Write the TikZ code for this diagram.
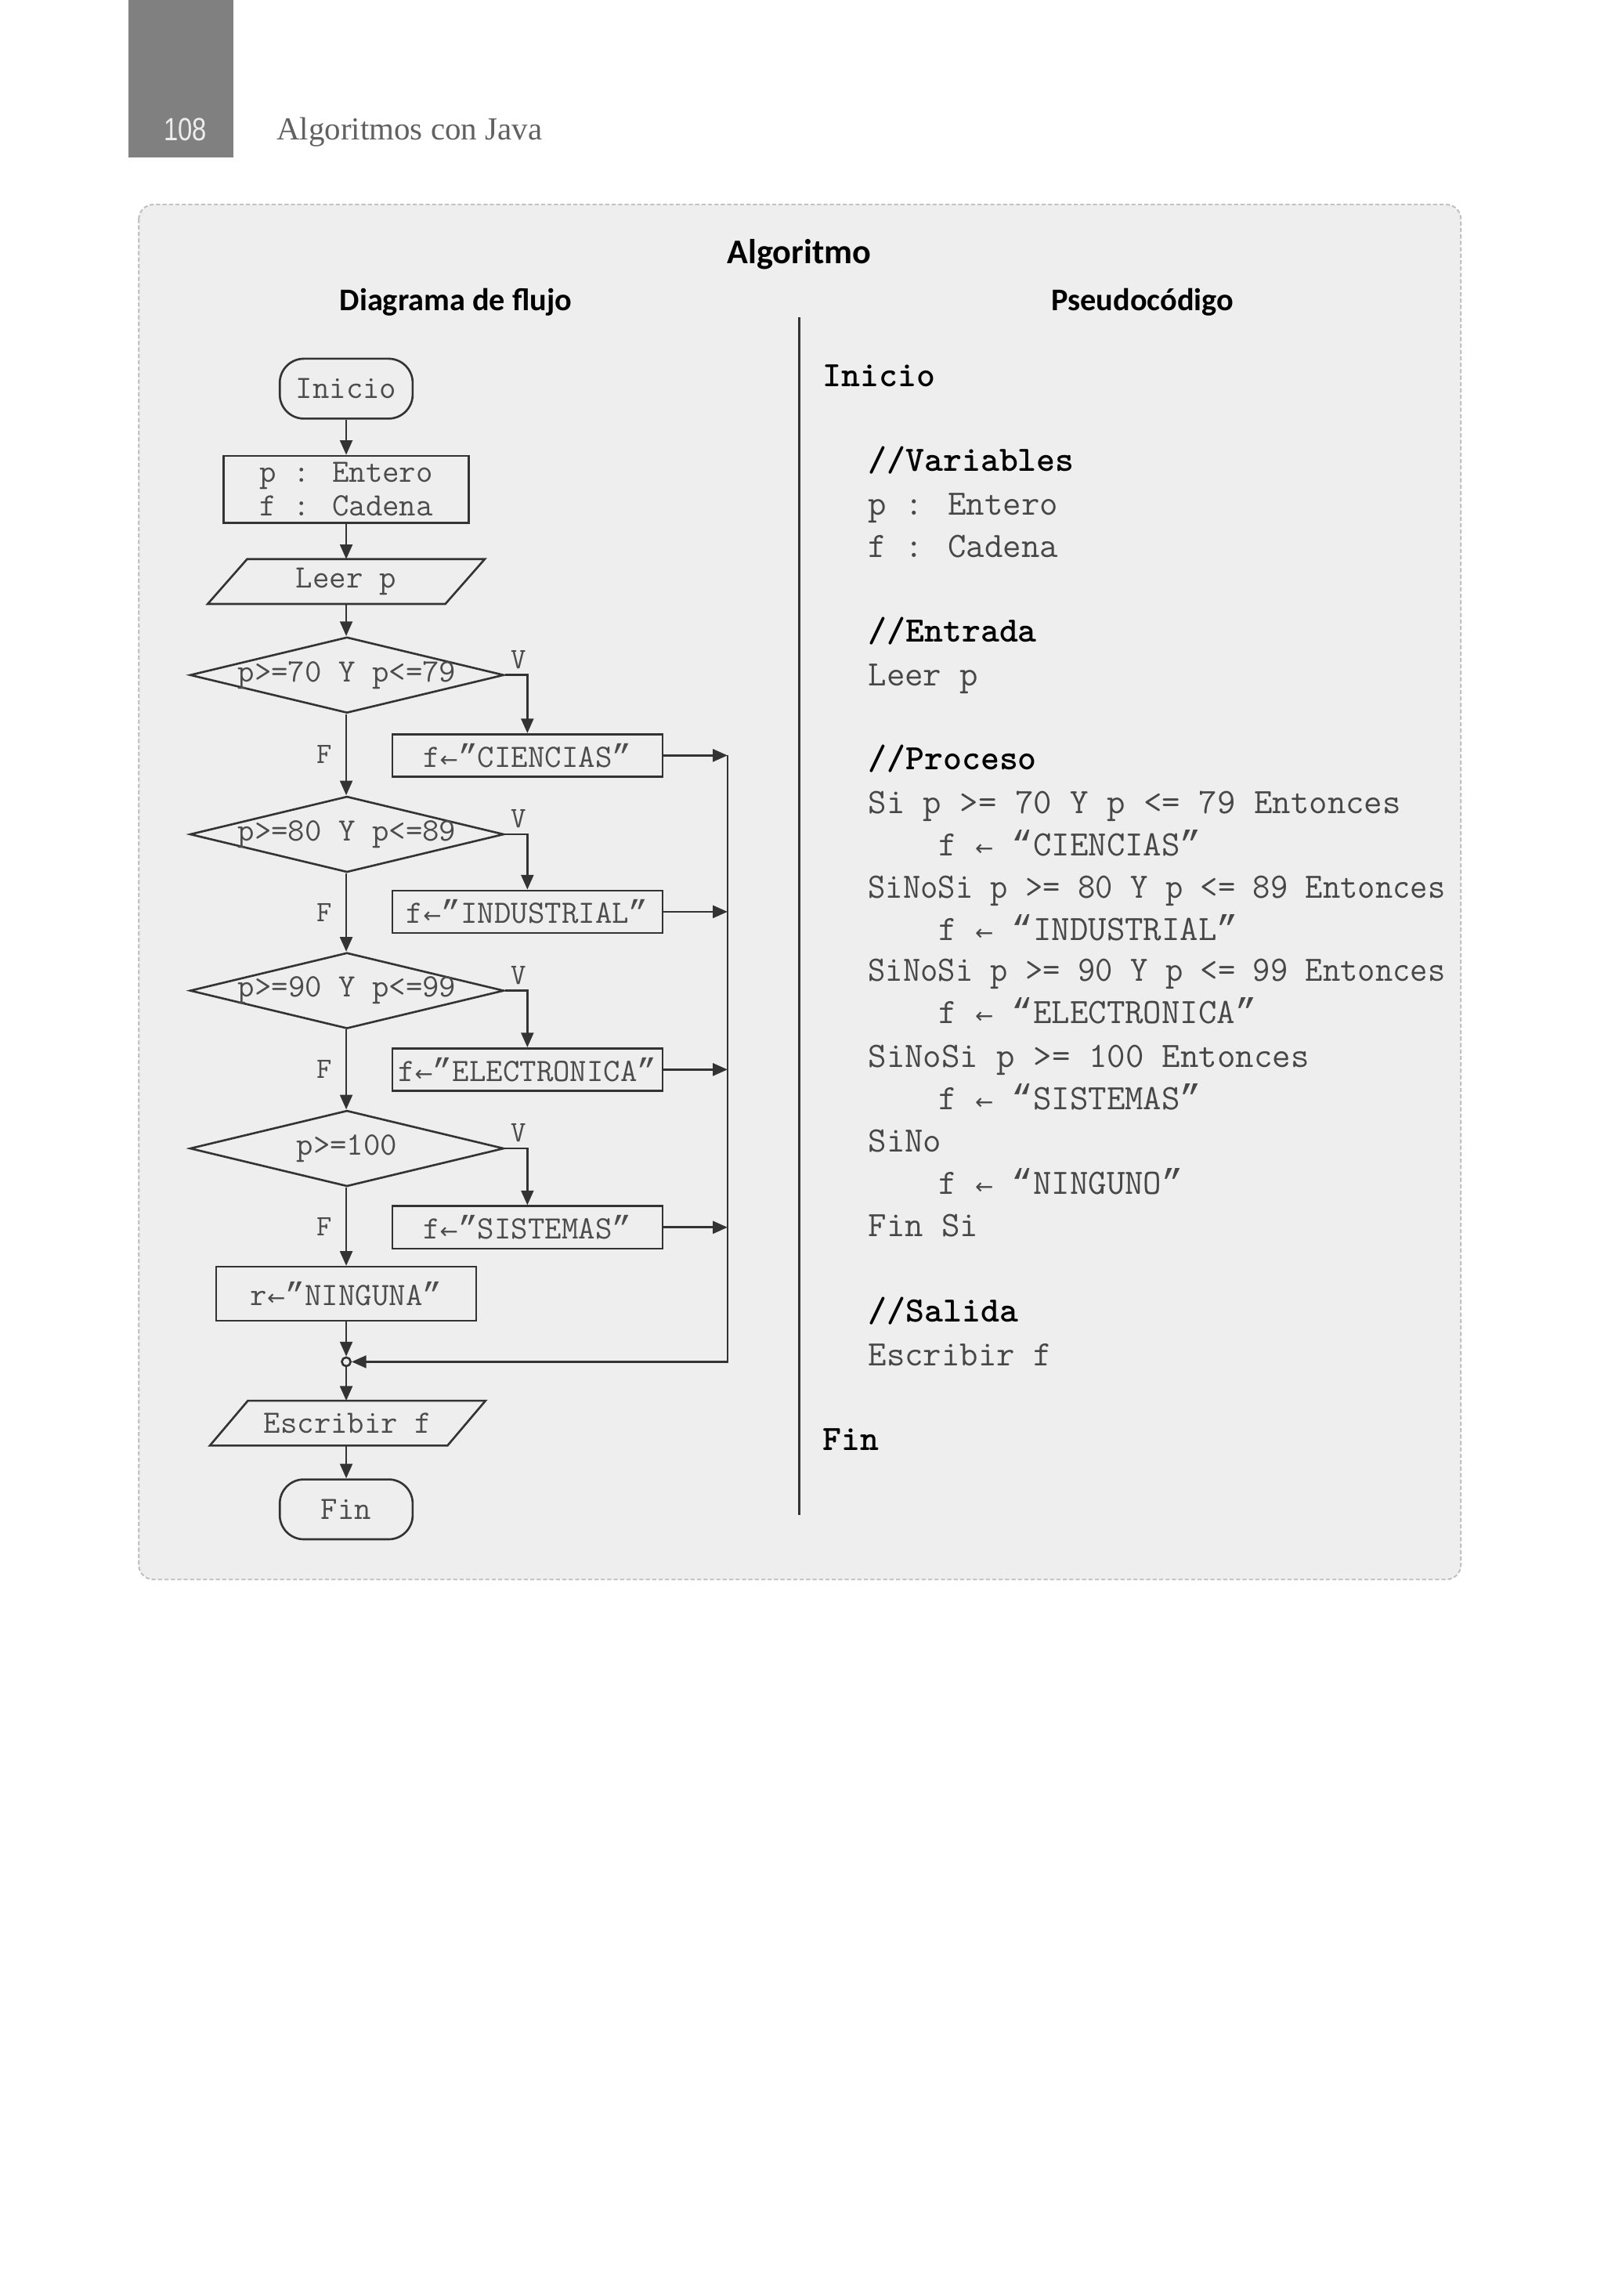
\documentclass[tikz,border=0pt]{standalone}
\usepackage{fontspec}
\usepackage{graphicx}
\setmainfont{Liberation Serif}
\newfontfamily\headf{Carlito}
\newfontfamily\symf{DejaVu Sans}
\newfontfamily\qf{Liberation Mono}
\newfontfamily\narrowf[FakeStretch=0.8]{Liberation Sans}
\usetikzlibrary{shapes.geometric,arrows.meta,calc}
\definecolor{panel}{HTML}{EEEEEE}
\definecolor{tabgray}{HTML}{808080}
\newcommand{\larr}{{\symf\fontsize{8.5}{8.5}\selectfont ←}}
\newcommand{\oq}{{\qf “}}
\newcommand{\cq}{{\qf ”}}
\newcommand{\tight}[1]{\scalebox{0.952}[1]{#1}}
\tikzset{
  ln/.style={draw=black!80, line width=0.8pt},
  arr/.style={ln, -{Triangle[length=0.2cm,width=0.17cm]}},
  fcfont/.style={font=\ttfamily\fontsize{12.7}{13.1}\selectfont, text=black!70},
  term/.style={ln, fcfont, rectangle, rounded corners=0.33cm, minimum width=1.82cm, minimum height=0.82cm, inner sep=0pt},
  proc/.style={ln, fcfont, rectangle, minimum height=0.58cm, inner sep=0pt},
  dec/.style={ln, diamond, aspect=4.13, inner sep=0pt, minimum width=4.3cm, minimum height=1.04cm},
  dectext/.style={fcfont, inner sep=0pt},
  iotext/.style={fcfont, rectangle, inner sep=0pt, minimum height=0.6cm},
  lbl/.style={font=\ttfamily\fontsize{11.5}{12}\selectfont, text=black!70, inner sep=1pt},
  pc/.style={font=\ttfamily\fontsize{13.9}{15}\selectfont, text=black!72, anchor=base west, inner sep=0pt},
  pcb/.style={pc, font=\ttfamily\bfseries\fontsize{13.9}{15}\selectfont, text=black},
  junc/.style={circle, ln, fill=panel, inner sep=0pt, minimum size=0.12cm},
}
\begin{document}
\begin{tikzpicture}[x=0.02cm,y=-0.02cm]
\useasboundingbox (0,0) rectangle (1098,1571.4);
\fill[white] (0,0) rectangle (1098,1571.4);
% page header
\fill[tabgray] (88,0) rectangle (160,108);
\node[font=\narrowf\fontsize{12.5}{14}\selectfont, text=white!93!black, anchor=base, inner sep=0pt] (pgnum) at (127,96.5) {108};
\node[font=\fontsize{12.5}{15}\selectfont, text=black!62, anchor=base west, inner sep=0pt] (runhead) at (189,95.5) {Algoritmos con Java};
% panel
\draw[black!25, line width=0.5pt, dash pattern=on 1.5pt off 1pt, fill=panel, rounded corners=0.2cm] (95,140) rectangle (1000,1081);
\node[font=\headf\bfseries\fontsize{13.5}{16}\selectfont, inner sep=0pt] (title) at (547,174) {Algoritmo};
\node[font=\headf\bfseries\fontsize{12.3}{15}\selectfont, inner sep=0pt] (hflow) at (312,207) {Diagrama de flujo};
\node[font=\headf\bfseries\fontsize{12.3}{15}\selectfont, inner sep=0pt] (hpseudo) at (782,207) {Pseudocódigo};
\coordinate (ruletop) at (547,217);
\coordinate (rulebot) at (547,1037);
\draw[black!80, line width=0.8pt] (ruletop) -- (rulebot);

% flowchart nodes
\node[term] (ini) at (237,266) {Inicio};
\node[proc, minimum width=3.36cm, minimum height=0.92cm, align=center] (decl) at (237,335) {p : Entero\\f : Cadena};
\node[iotext, minimum width=3.24cm] (leer) at (237,398) {Leer p};
\draw[ln] ($(leer.north west)+(13.5,0)$) -- ($(leer.north east)+(13.5,0)$) -- ($(leer.south east)+(-13.5,0)$) -- ($(leer.south west)+(-13.5,0)$) -- cycle;

\node[dec, label={[dectext]center:p>=70 Y p<=79}] (d1) at (237.5,462) {};
\node[dec, label={[dectext]center:p>=80 Y p<=89}] (d2) at (237.5,571) {};
\node[dec, label={[dectext]center:p>=90 Y p<=99}] (d3) at (237.5,678) {};
\node[dec, label={[dectext]center:p>=100}] (d4) at (237.5,786) {};

\node[proc, minimum width=3.7cm] (c1) at (361,517) {f\larr\cq CIENCIAS\cq};
\node[proc, minimum width=3.7cm] (c2) at (361,624) {f\larr\cq INDUSTRIAL\cq};
\node[proc, minimum width=3.7cm] (c3) at (361,732) {f\larr\cq ELECTRONICA\cq};
\node[proc, minimum width=3.7cm] (c4) at (361,840) {f\larr\cq SISTEMAS\cq};

\node[proc, minimum width=3.56cm, minimum height=0.74cm] (ning) at (237,885.5) {r\larr\cq NINGUNA\cq};
\node[junc] (jn) at (237,932) {};
\node[iotext, minimum width=3.24cm] (esc) at (238,974) {Escribir f};
\draw[ln] ($(esc.north west)+(13,0)$) -- ($(esc.north east)+(13,0)$) -- ($(esc.south east)+(-13,0)$) -- ($(esc.south west)+(-13,0)$) -- cycle;
\node[term] (fin) at (237,1033) {Fin};

% connectors
\draw[arr] (ini) -- (decl);
\draw[arr] (decl) -- (leer.north);
\draw[arr] (leer.south) -- (leer.south |- d1.north);
\draw[arr] (d1.south -| ini) -- node[lbl, left=4pt]{F} (d2.north -| ini);
\draw[arr] (d2.south -| ini) -- node[lbl, left=4pt]{F} (d3.north -| ini);
\draw[arr] (d3.south -| ini) -- node[lbl, left=4pt]{F} (d4.north -| ini);
\draw[arr] (d4.south -| ini) -- node[lbl, left=4pt]{F} (ning.north);
\draw[arr] (d1.east) -| node[lbl, pos=0.3, above=1pt]{V} (c1.north);
\draw[arr] (d2.east) -| node[lbl, pos=0.3, above=1pt]{V} (c2.north);
\draw[arr] (d3.east) -| node[lbl, pos=0.3, above=1pt]{V} (c3.north);
\draw[arr] (d4.east) -| node[lbl, pos=0.3, above=1pt]{V} (c4.north);
\coordinate (rt) at (498,517);
\draw[arr] (c1.east) -- (c1.east -| rt);
\draw[arr] (c2.east) -- (c2.east -| rt);
\draw[arr] (c3.east) -- (c3.east -| rt);
\draw[arr] (c4.east) -- (c4.east -| rt);
\draw[arr] (rt) -- (rt |- jn) -- (jn.east);
\draw[arr] (ning.south) -- (jn.north);
\draw[arr] (jn.south) -- (esc.north -| jn);
\draw[arr] (esc.south -| jn) -- (fin.north);

% pseudocode
\begin{scope}
\clip (95,140) rectangle (1000,1081);
\node[pcb] (p01) at (563,264.5) {Inicio};
\node[pcb] (p02) at (594,322.5) {//Variables};
\node[pc]  (p03) at (594,352.5) {p : Entero};
\node[pc]  (p04) at (594,381.5) {f : Cadena};
\node[pcb] (p05) at (594,439.5) {//Entrada};
\node[pc]  (p06) at (594,469.5) {Leer p};
\node[pcb] (p07) at (594,526.5) {//Proceso};
\node[pc]  (p08) at (594,556.5) {Si p >= 70 Y p <= 79 Entonces};
\node[pc]  (p09) at (642,585.5) {f \larr{} \oq CIENCIAS\cq};
\node[pc]  (p10) at (594,614.5) {\tight{SiNoSi p >= 80 Y p <= 89 Entonces}};
\node[pc]  (p11) at (642,643.5) {f \larr{} \oq INDUSTRIAL\cq};
\node[pc]  (p12) at (594,671.5) {\tight{SiNoSi p >= 90 Y p <= 99 Entonces}};
\node[pc]  (p13) at (642,700.5) {f \larr{} \oq ELECTRONICA\cq};
\node[pc]  (p14) at (594,730.5) {SiNoSi p >= 100 Entonces};
\node[pc]  (p15) at (642,759.5) {f \larr{} \oq SISTEMAS\cq};
\node[pc]  (p16) at (594,788.5) {SiNo};
\node[pc]  (p17) at (642,817.5) {f \larr{} \oq NINGUNO\cq};
\node[pc]  (p18) at (594,846.5) {Fin Si};
\node[pcb] (p19) at (594,904.5) {//Salida};
\node[pc]  (p20) at (594,934.5) {Escribir f};
\node[pcb] (p21) at (563,992.5) {Fin};
\end{scope}
\draw[black!25, line width=0.5pt, dash pattern=on 1.5pt off 1pt, rounded corners=0.2cm] (95,140) rectangle (1000,1081);
\end{tikzpicture}
\end{document}
